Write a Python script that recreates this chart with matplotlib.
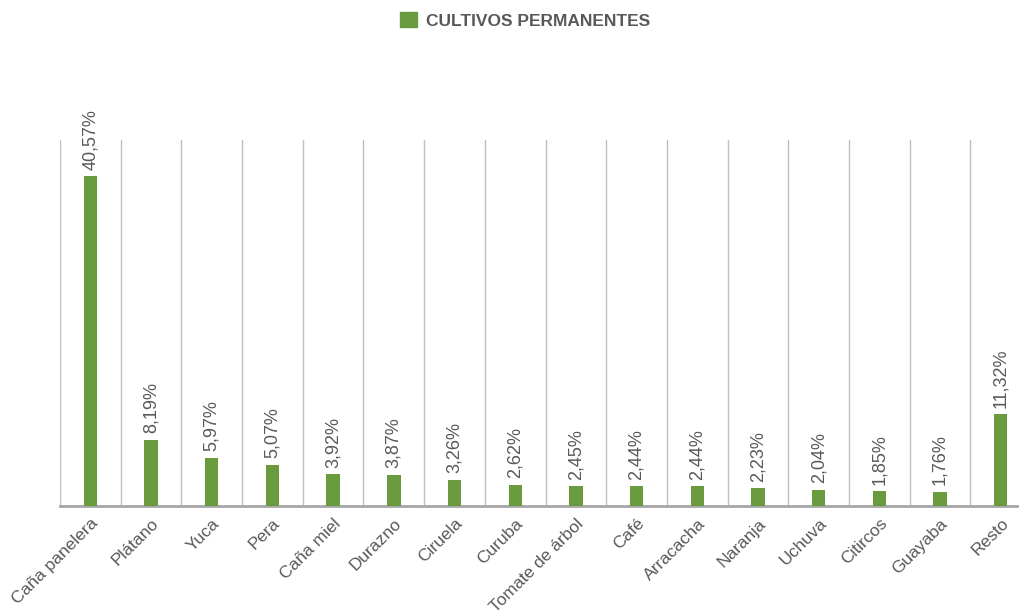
# Cultivos permanentes - gráfico de barras
import numpy as np
import matplotlib.pyplot as plt
from matplotlib.patches import Patch

plt.rcParams['font.family'] = ['Liberation Sans', 'DejaVu Sans']

cultivos = ['Caña panelera', 'Plátano', 'Yuca', 'Pera', 'Caña miel', 'Durazno',
            'Ciruela', 'Curuba', 'Tomate de árbol', 'Café', 'Arracacha', 'Naranja',
            'Uchuva', 'Citircos', 'Guayaba', 'Resto']
porcentajes = [40.57, 8.19, 5.97, 5.07, 3.92, 3.87, 3.26, 2.62, 2.45, 2.44,
               2.44, 2.23, 2.04, 1.85, 1.76, 11.32]

verde = '#6a9a3e'
gris = '#595959'

fig = plt.figure(figsize=(10.19, 6.15), dpi=100)
ax = fig.add_axes([0.0589, 0.177, 0.953, 0.595])

x = np.arange(len(cultivos))
ax.bar(x, porcentajes, width=0.22, color=verde, zorder=3)

for xi, v in zip(x, porcentajes):
    ax.text(xi, v + 0.8, f'{v:.2f}%'.replace('.', ','), rotation=90,
            ha='center', va='bottom', fontsize=13, color=gris)

# líneas verticales entre categorías
for b in np.arange(-0.5, len(cultivos) + 0.5, 1):
    ax.axvline(b, color='#bfbfbf', lw=1, zorder=1)

ax.set_xlim(-0.5, len(cultivos) - 0.5)
ax.set_ylim(0, 45)
ax.set_yticks([])
ax.set_xticks(x)
ax.set_xticklabels(cultivos, rotation=45, ha='right', rotation_mode='anchor',
                   fontsize=12.5, color=gris)
ax.tick_params(axis='x', length=0, pad=7)
for s in ['top', 'right', 'left']:
    ax.spines[s].set_visible(False)
ax.spines['bottom'].set_color('#a6a6a6')
ax.spines['bottom'].set_linewidth(2)

fig.legend(handles=[Patch(color=verde, label='CULTIVOS PERMANENTES')],
           loc='center', bbox_to_anchor=(0.515, 0.967), frameon=False,
           handlelength=1.0, handleheight=1.0, handletextpad=0.5,
           prop={'weight': 'bold', 'size': 12.5}, labelcolor=gris)

plt.savefig('out.png', dpi=100)
